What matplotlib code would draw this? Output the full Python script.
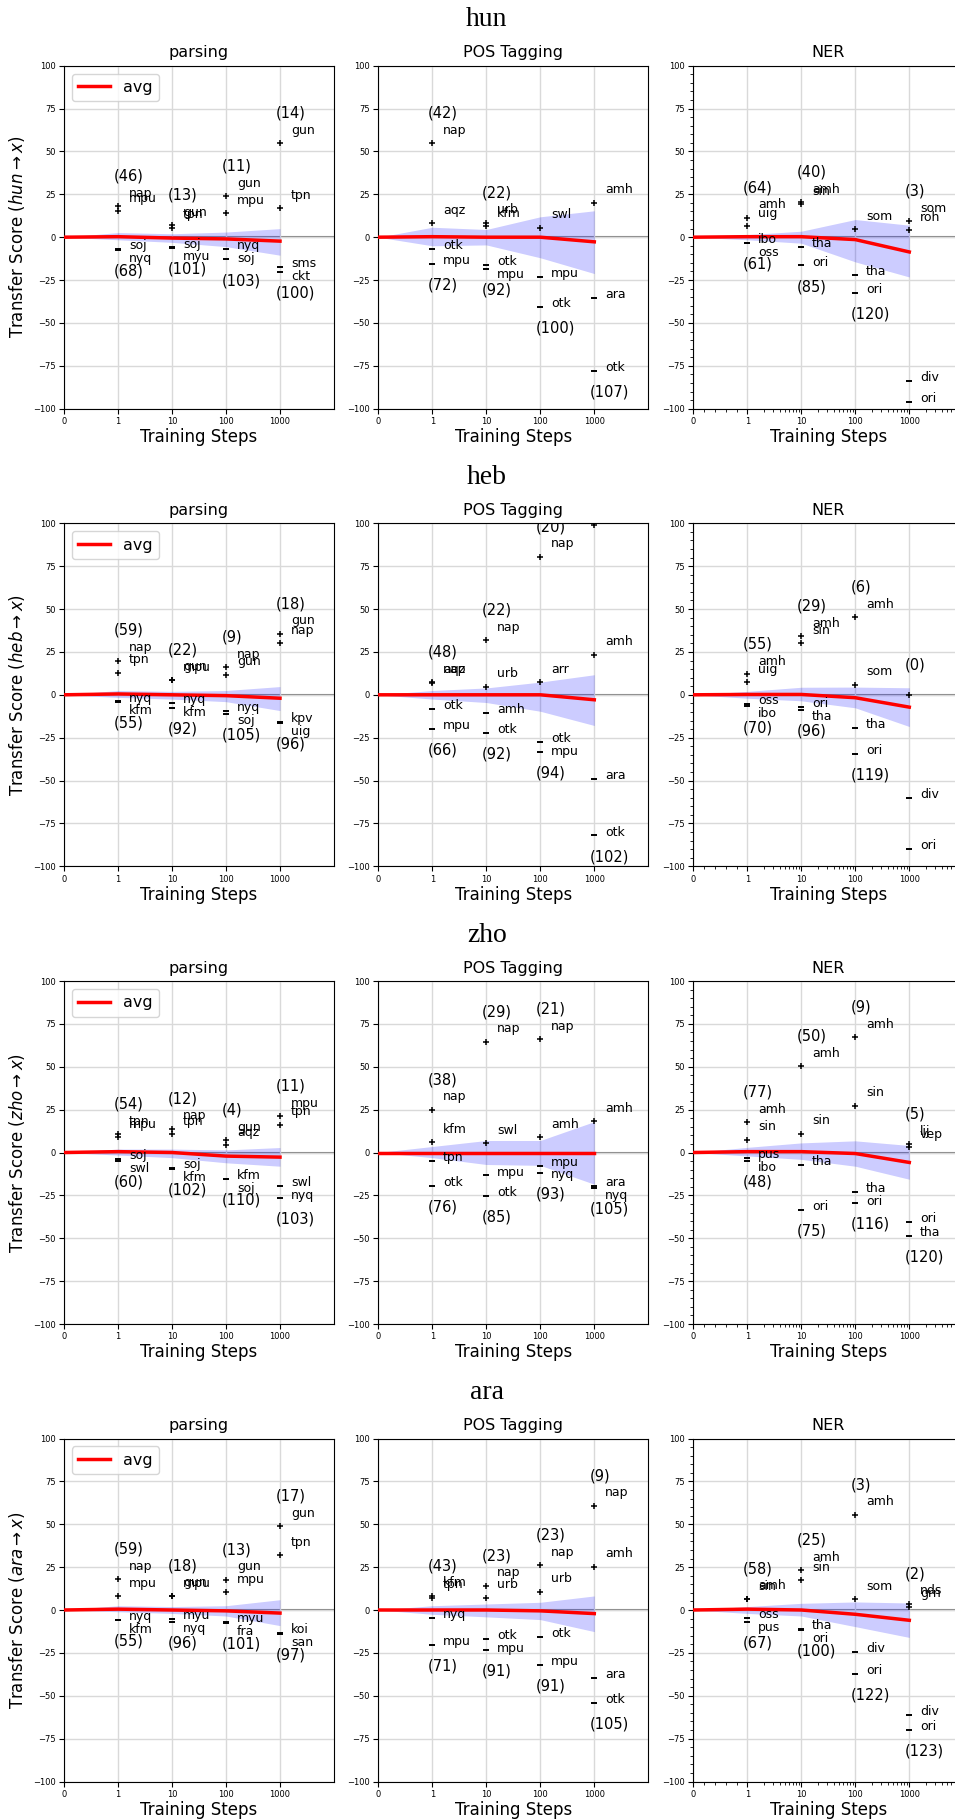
import matplotlib
matplotlib.use('Agg')
import matplotlib.pyplot as plt
from matplotlib.ticker import FixedLocator, MultipleLocator

steps = [0, 1, 10, 100, 1000]
tasks = ['parsing', 'POS Tagging', 'NER']
langs = ['hun', 'heb', 'zho', 'ara']

# avg transfer per step, one list per task (parsing, POS, NER)
avg = {
    'hun': [[0, 0.3, -0.5, -1, -2.3], [0, 0.3, 0, 0, -2.7], [0, 0.3, 0.3, -1.4, -8.6]],
    'heb': [[0, 0.5, 0, -0.5, -2], [0, 0, 0, 0, -2.9], [0, 0.2, 0.2, -1.7, -7.2]],
    'zho': [[0, 0.5, 0, -2.1, -2.7], [0, 0, 0, 0, 0], [0, 0.5, 0.5, -0.6, -5.8]],
    'ara': [[0, 0.5, 0, -0.5, -1.8], [0, 0, 0, -0.5, -2.1], [0, 0.5, 0, -2.5, -6]],
}
band_hi = {
    'hun': [[0, 2.7, 2, 3, 5], [0, 5.8, 4.5, 11.9, 15.4], [0, 1.5, 3.5, 10.3, 7]],
    'heb': [[0, 2.5, 2, 2.5, 4.8], [0, 2.5, 4, 7.4, 11.7], [0, 2, 4.4, 4.5, 4.1]],
    'zho': [[0, 2, 2, 1.5, 2.9], [0, 3.5, 7, 7, 18], [0, 3, 5.6, 6.8, 4.1]],
    'ara': [[0, 2.5, 2, 2.5, 6], [0, 2.5, 3.5, 4.5, 8.2], [0, 2, 3.9, 4.7, 4.1]],
}
band_lo = {
    'hun': [[0, -1.5, -3, -5.5, -10.5], [0, -5, -4.5, -12, -21.2], [0, -1.5, -3.5, -14.4, -23.2]],
    'heb': [[0, -1.5, -2.5, -4, -9.2], [0, -2.5, -4.5, -9.6, -17.9], [0, -2, -3.5, -7.6, -18.5]],
    'zho': [[0, -1.5, -3, -6, -8], [0, -3, -7, -7.5, -18.5], [0, -2, -4, -8, -15.6]],
    'ara': [[0, -1, -2, -3.5, -9.1], [0, -2.5, -4, -5.6, -12.6], [0, -2, -3.5, -9.7, -16]],
}

# best target languages at steps 1, 10, 100, 1000
top_names = {
    'hun': [[['nap', 'mpu'], ['gun', 'tpn'], ['gun', 'mpu'], ['gun', 'tpn']],
            [['nap', 'aqz'], ['urb', 'kfm'], ['swl'], ['amh']],
            [['amh', 'uig'], ['amh', 'sin'], ['som'], ['som', 'roh']]],
    'heb': [[['nap', 'tpn'], ['gun', 'mpu'], ['nap', 'gun'], ['gun', 'nap']],
            [['nap', 'aqz'], ['nap', 'urb'], ['nap', 'arr'], ['nap', 'amh']],
            [['amh', 'uig'], ['amh', 'sin'], ['amh', 'som'], ['']]],
    'zho': [[['tpn', 'mpu'], ['nap', 'tpn'], ['gun', 'aqz'], ['mpu', 'tpn']],
            [['nap', 'kfm'], ['nap', 'swl'], ['nap', 'amh'], ['amh']],
            [['amh', 'sin'], ['amh', 'sin'], ['amh', 'sin'], ['lij', 'vep']]],
    'ara': [[['nap', 'mpu'], ['gun', 'mpu'], ['gun', 'mpu'], ['gun', 'tpn']],
            [['kfm', 'tpn'], ['nap', 'urb'], ['nap', 'urb'], ['nap', 'amh']],
            [['amh', 'sin'], ['amh', 'sin'], ['amh', 'som'], ['nds', 'grn']]],
}
top_vals = {
    'hun': [[[18, 15], [7, 5.5], [24, 14], [55, 17]],
            [[55, 8], [8.5, 6.5], [5.6], [20.2]],
            [[11.3, 6.4], [20.6, 19.3], [4.8], [9.3, 4]]],
    'heb': [[[20, 13], [8.9, 8.5], [16.1, 11.7], [35.6, 30.1]],
            [[7.5, 7], [32, 4.8], [80.5, 7.4], [99.2, 23.3]],
            [[12.2, 7.4], [34, 30.1], [45.3, 5.8], [0]]],
    'zho': [[[10.5, 9], [13.8, 10.5], [7, 4.1], [21.2, 16.3]],
            [[24.9, 6.2], [64.6, 5.4], [66.1, 9.1], [18.1]],
            [[17.7, 7.4], [50.2, 10.9], [67.3, 27.4], [4.7, 3.1]]],
    'ara': [[[18.1, 8], [8.4, 8], [17.7, 10.5], [49, 31.9]],
            [[8.4, 7.2], [14.2, 7.2], [26.3, 10.7], [60.9, 25.3]],
            [[6.5, 6.2], [23.3, 17.5], [55.6, 6.2], [3.7, 1.9]]],
}
# worst target languages at steps 1, 10, 100, 1000
bot_names = {
    'hun': [[['soj', 'nyq'], ['soj', 'myu'], ['nyq', 'soj'], ['sms', 'ckt']],
            [['otk', 'mpu'], ['otk', 'mpu'], ['mpu', 'otk'], ['ara', 'otk']],
            [['ibo', 'oss'], ['tha', 'ori'], ['tha', 'ori'], ['div', 'ori']]],
    'heb': [[['nyq', 'kfm'], ['nyq', 'kfm'], ['nyq', 'soj'], ['kpv', 'uig']],
            [['otk', 'mpu'], ['amh', 'otk'], ['otk', 'mpu'], ['ara', 'otk']],
            [['oss', 'ibo'], ['ori', 'tha'], ['tha', 'ori'], ['div', 'ori']]],
    'zho': [[['soj', 'swl'], ['soj', 'kfm'], ['kfm', 'soj'], ['swl', 'nyq']],
            [['tpn', 'otk'], ['mpu', 'otk'], ['mpu', 'nyq'], ['ara', 'nyq']],
            [['pus', 'ibo'], ['tha', 'ori'], ['tha', 'ori'], ['ori', 'tha']]],
    'ara': [[['nyq', 'kfm'], ['myu', 'nyq'], ['myu', 'fra'], ['koi', 'san']],
            [['nyq', 'mpu'], ['otk', 'mpu'], ['otk', 'mpu'], ['ara', 'otk']],
            [['oss', 'pus'], ['tha', 'ori'], ['div', 'ori'], ['div', 'ori']]],
}
bot_vals = {
    'hun': [[[-7, -7.5], [-6, -6.5], [-7, -13], [-17.6, -20.5]],
            [[-7, -15.8], [-16, -18.5], [-23.1, -40.6], [-35.2, -78]],
            [[-3.3, -3.6], [-5.8, -16.5], [-22.2, -32.5], [-83.8, -96]]],
    'heb': [[[-3.9, -4.3], [-4.9, -7.6], [-9.2, -11.1], [-16, -16.4]],
            [[-8.4, -19.8], [-10.7, -22.2], [-27.6, -33.5], [-49, -82]],
            [[-5.3, -6.8], [-7.2, -8.8], [-19.3, -34.4], [-60.3, -90]]],
    'zho': [[[-3.7, -5], [-9.1, -9.5], [-15.4, -15.6], [-19.6, -26.7]],
            [[-5, -19.6], [-13.4, -25.1], [-7.6, -12.1], [-19.6, -20.6]],
            [[-3.3, -4.7], [-7, -33.3], [-23.2, -29.6], [-40.7, -48.8]]],
    'ara': [[[-5.8, -6], [-5.1, -6.8], [-7.2, -7.5], [-13.4, -14]],
            [[-4.9, -20.4], [-17.1, -23.2], [-15.6, -31.9], [-39.5, -54.4]],
            [[-4.5, -7.2], [-11.1, -11.5], [-24.3, -37.4], [-61.3, -70]]],
}
# number of languages with positive / negative transfer
top_count = {
    'hun': [[46, 13, 11, 14], [42, 22, None, None], [64, 40, None, 3]],
    'heb': [[59, 22, 9, 18], [48, 22, 20, None], [55, 29, 6, 0]],
    'zho': [[54, 12, 4, 11], [38, 29, 21, None], [77, 50, 9, 5]],
    'ara': [[59, 18, 13, 17], [43, 23, 23, 9], [58, 25, 3, 2]],
}
bot_count = {
    'hun': [[68, 101, 103, 100], [72, 92, 100, 107], [61, 85, 120, None]],
    'heb': [[55, 92, 105, 96], [66, 92, 94, 102], [70, 96, 119, None]],
    'zho': [[60, 102, 110, 103], [76, 85, 93, 105], [48, 75, 116, 120]],
    'ara': [[55, 96, 101, 97], [71, 91, 91, 105], [67, 100, 122, 123]],
}


def pos(i):
    # evenly spaced slot -> symlog data value
    return i if i <= 1 else 10 ** (i - 1)


def label(ax, x, y, s, size):
    if s and -100 <= y <= 100:
        ax.text(x, y, s, fontsize=size, ha='left', va='center', clip_on=True, zorder=5)


fig = plt.figure(figsize=(9.55, 18.19), dpi=100)

lefts = [64 / 955, 378.3 / 955, 693.3 / 955]
tops = [65.7, 523.3, 981, 1438.5]
w, h = 270 / 955, 343 / 1819

for r, lang in enumerate(langs):
    fig.text(0.5096, 1 - (tops[r] - 45.7) / 1819, lang, ha='center', va='center',
             fontsize=20, family='Liberation Serif')
    for c, task in enumerate(tasks):
        ax = fig.add_axes([lefts[c], 1 - (tops[r] + 343) / 1819, w, h])
        ax.set_xscale('symlog', linthresh=1, linscale=0.9)
        ax.fill_between(steps, band_lo[lang][c], band_hi[lang][c], color='blue',
                        alpha=0.2, lw=0, zorder=2)
        ax.axhline(0, color='gray', lw=1.5, zorder=1)
        ax.plot(steps, avg[lang][c], color='red', lw=2.5, label='avg', zorder=3)

        for k in range(4):
            i = k + 1
            st = steps[i]
            tv = top_vals[lang][c][k]
            bv = bot_vals[lang][c][k]
            ax.plot([st] * len(tv), tv, '+', color='k', ms=4.5, mew=1.1, zorder=4)
            ax.plot([st] * len(bv), bv, '_', color='k', ms=4.5, mew=1.4, zorder=4)
            for n, v in zip(top_names[lang][c][k], tv):
                label(ax, pos(i + 0.2), v + 7.5, n, 9)
            y1 = bv[0] + 2
            label(ax, pos(i + 0.2), y1, bot_names[lang][c][k][0], 9)
            if len(bv) > 1:
                y2 = min(bv[1] + 2, y1 - 7.5)
                label(ax, pos(i + 0.2), y2, bot_names[lang][c][k][1], 9)
            if top_count[lang][c][k] is not None:
                label(ax, pos(i - 0.08), max(tv) + 17.5, '(%d)' % top_count[lang][c][k], 10.5)
            if bot_count[lang][c][k] is not None:
                label(ax, pos(i - 0.08), min(bv) - 12.3, '(%d)' % bot_count[lang][c][k], 10.5)

        ax.set_xlim(0, 10000)
        ax.set_ylim(-100, 100)
        ax.set_xticks(steps)
        ax.set_xticklabels([str(s) for s in steps])
        ax.set_yticks(range(-100, 101, 25))
        ax.tick_params(labelsize=6, pad=2.5)
        ax.grid(True, color='0.85', lw=1.0, zorder=0)
        if task == 'NER':
            ax.xaxis.set_minor_locator(FixedLocator(
                [0.2, 0.4, 0.6, 0.8] + [m * 10 ** d for d in range(4) for m in range(2, 10)]))
            ax.yaxis.set_minor_locator(MultipleLocator(5))
        else:
            ax.xaxis.set_minor_locator(FixedLocator([]))
        ax.set_title(task, fontsize=11.5)
        ax.set_xlabel('Training Steps', fontsize=12, labelpad=1.5)
        if c == 0:
            ax.set_ylabel(r'Transfer Score ($%s \rightarrow x$)' % lang, fontsize=12)
            ax.legend(loc='upper left', fontsize=11.5)

fig.savefig('out.png', dpi=100)
